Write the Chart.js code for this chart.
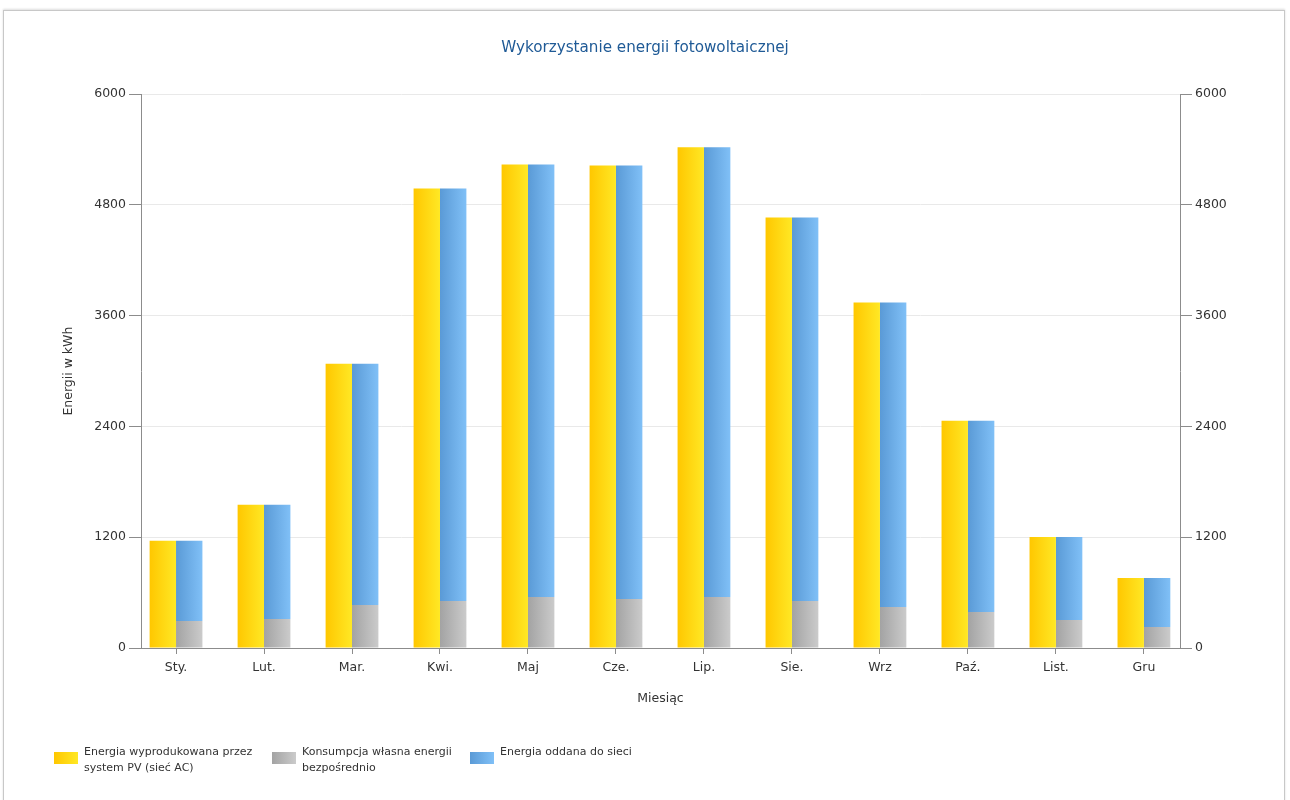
<!DOCTYPE html>
<html>
<head>
<meta charset="utf-8">
<script src="https://cdn.jsdelivr.net/npm/chart.js@4"></script>
<style>
  html, body { margin: 0; padding: 0; background: #fff; }
  body { width: 1290px; height: 800px; position: relative; overflow: hidden; font-family: "DejaVu Sans", sans-serif; }
  .frame { position: absolute; left: 3px; top: 10px; width: 1280px; height: 800px; border: 1px solid #c8c8c8; box-shadow: 0 -1px 2px #ddd; }
  #wrap { position: absolute; left: 0; top: 0; width: 1290px; height: 800px; }
  .legend { position: absolute; left: 54px; top: 744px; font-size: 11px; color: #333; line-height: 16px; }
  .item { position: absolute; top: 0; white-space: nowrap; }
  .item span.box { position: absolute; left: 0; top: 8px; width: 24px; height: 12px; }
  .item div { position: absolute; left: 30px; top: 0; }
</style>
</head>
<body>
<div class="frame"></div>
<div id="wrap"><canvas id="chart"></canvas></div>
<div class="legend" id="legend"></div>
<script>
// months and values (kWh)
const months = ['Sty.', 'Lut.', 'Mar.', 'Kwi.', 'Maj', 'Cze.', 'Lip.', 'Sie.', 'Wrz', 'Paź.', 'List.', 'Gru'];
const produced = [1161, 1551, 3081, 4980, 5240, 5229, 5425, 4665, 3743, 2463, 1204, 759];
const selfUse = [293, 315, 467, 510, 553, 532, 553, 510, 445, 391, 304, 228];
const toGrid = produced.map((v, i) => v - selfUse[i]);
const yTicks = [0, 1200, 2400, 3600, 4800, 6000];

const seriesNames = [
    ['Energia wyprodukowana przez', 'system PV (sieć AC)'],
    ['Konsumpcja własna energii', 'bezpośrednio'],
    ['Energia oddana do sieci']
];
// left -> right colour of each bar
const gradients = [
    ['#ffc700', '#ffe825'],
    ['#a3a3a3', '#cbcbcb'],
    ['#5a9ad6', '#80c0f7']
];

// horizontal gradient for every bar
const barGradient = {
    id: 'barGradient',
    beforeDatasetDraw(chart, args) {
        const ctx = chart.ctx;
        const cols = gradients[args.index];
        args.meta.data.forEach(bar => {
            const g = ctx.createLinearGradient(bar.x - bar.width / 2, 0, bar.x + bar.width / 2, 0);
            g.addColorStop(0, cols[0]);
            g.addColorStop(1, cols[1]);
            bar.options.backgroundColor = g;
        });
    }
};

const toPoints = arr => arr.map((v, i) => ({ x: i, y: v }));
const tickFont = { family: 'DejaVu Sans', size: 12.5 };
const axisColor = '#8c8c8c';

new Chart(document.getElementById('chart'), {
    type: 'bar',
    data: {
        datasets: [
            { label: seriesNames[0].join(' '), data: toPoints(produced), stack: 'a', backgroundColor: () => gradients[0][0] },
            { label: seriesNames[1].join(' '), data: toPoints(selfUse), stack: 'b', backgroundColor: () => gradients[1][0] },
            { label: seriesNames[2].join(' '), data: toPoints(toGrid), stack: 'b', backgroundColor: () => gradients[2][0] }
        ]
    },
    options: {
        responsive: true,
        maintainAspectRatio: false,
        animation: false,
        categoryPercentage: 0.6,
        barPercentage: 1,
        layout: { padding: { left: 55, right: 55, top: 0, bottom: 90 } },
        plugins: {
            legend: { display: false },
            tooltip: { enabled: false },
            title: {
                display: true,
                text: 'Wykorzystanie energii fotowoltaicznej',
                color: '#1f5a96',
                font: { family: 'DejaVu Sans', size: 15.2, weight: 'normal' },
                padding: { top: 39, bottom: 37 }
            }
        },
        scales: {
            x: {
                type: 'linear',
                stacked: true,
                offset: false,
                min: -0.398,
                max: 11.41,
                afterBuildTicks: s => { s.ticks = months.map((m, i) => ({ value: i })); },
                grid: { drawOnChartArea: false, offset: false, tickLength: 6, tickColor: axisColor },
                border: { color: axisColor },
                ticks: { color: '#333', font: tickFont, padding: 6, callback: v => months[v] },
                title: { display: true, text: 'Miesiąc', color: '#333', font: tickFont, padding: { top: 4, bottom: 4 } },
                afterFit: s => { s.height = 62; }
            },
            y: {
                stacked: true,
                min: 0, max: 6000,
                afterBuildTicks: s => { s.ticks = yTicks.map(v => ({ value: v })); },
                grid: { color: '#e9e9e9', tickLength: 12, tickColor: axisColor },
                border: { color: axisColor },
                ticks: { color: '#333', font: tickFont, padding: 3, callback: v => String(v) },
                title: { display: true, text: 'Energii w kWh', color: '#333', font: tickFont, padding: { top: 6, bottom: 4 } },
                afterFit: s => { s.width = 86; }
            },
            y2: {
                position: 'right',
                min: 0, max: 6000,
                afterBuildTicks: s => { s.ticks = yTicks.map(v => ({ value: v })); },
                grid: { drawOnChartArea: false, tickLength: 12, tickColor: axisColor },
                border: { color: axisColor },
                ticks: { color: '#333', font: tickFont, padding: 3, callback: v => String(v) },
                afterFit: s => { s.width = 55; }
            }
        }
    },
    plugins: [barGradient]
});

// legend with two-line labels
const legend = document.getElementById('legend');
const itemX = [0, 218, 416];
seriesNames.forEach((lines, i) => {
    const item = document.createElement('div');
    item.className = 'item';
    item.style.left = itemX[i] + 'px';
    const box = document.createElement('span');
    box.className = 'box';
    box.style.background = `linear-gradient(to right, ${gradients[i][0]}, ${gradients[i][1]})`;
    const txt = document.createElement('div');
    txt.innerHTML = lines.join('<br>');
    item.appendChild(box);
    item.appendChild(txt);
    legend.appendChild(item);
});
</script>
</body>
</html>
